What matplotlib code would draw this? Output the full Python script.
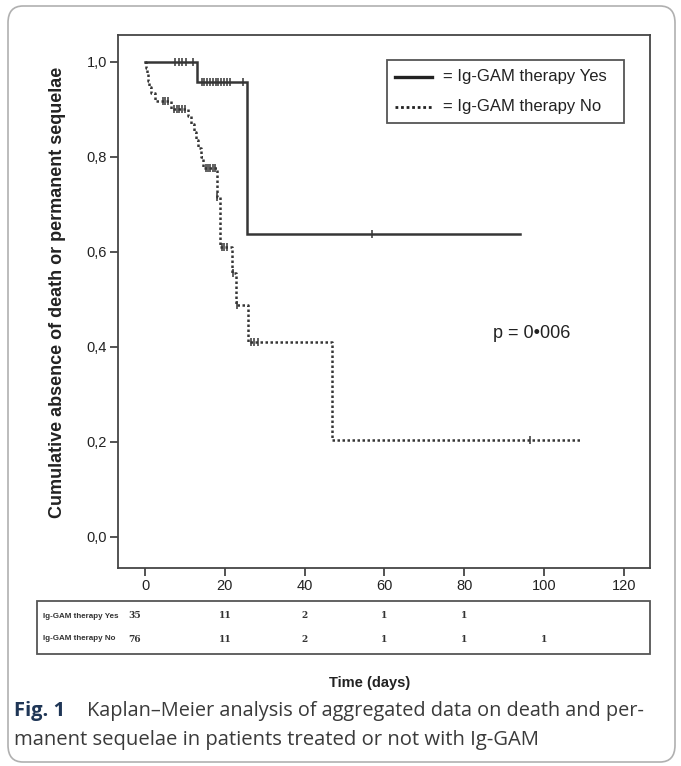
import numpy as np
import matplotlib
matplotlib.use("Agg")
import matplotlib.pyplot as plt
from matplotlib import transforms
from matplotlib.patches import Rectangle, FancyBboxPatch
from matplotlib.lines import Line2D

# ---------------- data ----------------
# Ig-GAM therapy Yes: step function (time in days, survival after the step)
yes_times = [0, 13.0, 25.5, 94.0]
yes_surv = [1.0, 0.957, 0.638, 0.638]
yes_censor = [7.6, 8.4, 9.2, 10.2, 12.0, 14.2, 14.9, 15.6, 16.3, 17.0, 17.7,
              18.4, 19.1, 19.8, 20.6, 21.4, 24.6, 57.0]

# Ig-GAM therapy No
no_times = [0, 0.2, 0.5, 0.8, 1.1, 1.5, 2.6, 6.4, 10.8, 11.5, 12.2, 12.8,
            13.4, 14.0, 14.6, 18.0, 18.7, 21.8, 22.9, 25.7, 47.0, 109.0]
no_surv = [1.0, 0.987, 0.974, 0.961, 0.947, 0.934, 0.918, 0.902, 0.886, 0.869,
           0.852, 0.835, 0.818, 0.80, 0.777, 0.716, 0.611, 0.555, 0.488, 0.41,
           0.205, 0.205]
no_censor = [4.4, 5.1, 5.8, 7.2, 7.9, 8.6, 9.3, 10.0, 15.2, 15.8, 16.4, 17.0,
             17.6, 18.1, 19.3, 19.9, 20.5, 22.1, 23.1, 26.6, 27.4, 28.4, 96.5]

x_ticks = [0, 20, 40, 60, 80, 100, 120]
y_ticks = [0.0, 0.2, 0.4, 0.6, 0.8, 1.0]
y_tick_labels = ["0,0", "0,2", "0,4", "0,6", "0,8", "1,0"]

risk_labels = ["Ig-GAM therapy Yes", "Ig-GAM therapy No"]
risk_yes = {0: "35", 20: "11", 40: "2", 60: "1", 80: "1"}
risk_no = {0: "76", 20: "11", 40: "2", 60: "1", 80: "1", 100: "1"}

legend_labels = ["= Ig-GAM therapy Yes", "= Ig-GAM therapy No"]
p_text = "p = 0\u2022006"
y_label = "Cumulative absence of death or permanent sequelae"
x_label = "Time (days)"
caption_bold = "Fig. 1"
caption_line1 = "Kaplan\u2013Meier analysis of aggregated data on death and per-"
caption_line2 = "manent sequelae in patients treated or not with Ig-GAM"

# ---------------- figure ----------------
W, H = 681, 766
fig = plt.figure(figsize=(W / 100, H / 100), dpi=100)
fig.patch.set_facecolor("white")
plt.rcParams["font.family"] = ["Liberation Sans", "DejaVu Sans"]


def fx(px):
    return px / W


def fy(py):
    return 1 - py / H


# outer rounded frame
outer = FancyBboxPatch((fx(8), fy(762)), fx(675) - fx(8), fy(6) - fy(762),
                       boxstyle="round,pad=0,rounding_size=0.022",
                       transform=fig.transFigure, fill=False,
                       edgecolor="#b0b0b0", linewidth=1.2)
fig.patches.append(outer)

ax = fig.add_axes([fx(118), fy(568), fx(650) - fx(118), fy(35) - fy(568)])
ax.set_xlim(-6.77, 126.6)
ax.set_ylim(-0.0653, 1.0568)
for s in ax.spines.values():
    s.set_color("#454545")
    s.set_linewidth(1.3)

line_col = "#363636"
dot_style = (0, (1.0, 1.0))


def step_at(times, surv, t):
    i = np.searchsorted(times, t, side="right") - 1
    return np.asarray(surv)[i]


ax.plot(yes_times, yes_surv, drawstyle="steps-post", color=line_col,
        linewidth=1.8, solid_joinstyle="miter")
ax.plot(no_times, no_surv, drawstyle="steps-post", color=line_col,
        linewidth=1.8, linestyle=dot_style)
ax.plot(yes_censor, [step_at(yes_times, yes_surv, c) for c in yes_censor],
        linestyle="none", marker="|", markersize=6, markeredgewidth=1.1,
        color=line_col)
ax.plot(no_censor, [step_at(no_times, no_surv, c) for c in no_censor],
        linestyle="none", marker="|", markersize=6, markeredgewidth=1.1,
        color=line_col)

ax.set_xticks(x_ticks)
ax.set_xticklabels([str(t) for t in x_ticks])
ax.set_yticks(y_ticks)
ax.set_yticklabels(y_tick_labels)
ax.tick_params(axis="both", direction="out", length=6, width=1.3,
               color="#454545", labelsize=10.5, labelcolor="#222222", pad=2)

# legend box
fig.patches.append(Rectangle((fx(387), fy(123)), fx(624) - fx(387),
                             fy(60) - fy(123), transform=fig.transFigure,
                             fill=False, edgecolor="#555555", linewidth=1.3))
for i, (lab, ls) in enumerate(zip(legend_labels, ["-", dot_style])):
    yy = fy(77 + 30 * i)
    fig.add_artist(Line2D([fx(395), fx(432)], [yy, yy], color="#222222",
                          linewidth=2.4 if i == 0 else 2.0, linestyle=ls,
                          transform=fig.transFigure))
    fig.text(fx(443), yy, lab, fontsize=12, va="center", ha="left",
             color="#222222")

fig.text(fx(493), fy(333), p_text, fontsize=13, va="center", ha="left",
         color="#222222")

fig.text(fx(58), fy(292), y_label, rotation=90, fontsize=13,
         fontweight="bold", va="center", ha="center", color="#222222")

# number-at-risk table
fig.patches.append(Rectangle((fx(37), fy(654)), fx(650) - fx(37),
                             fy(601) - fy(654), transform=fig.transFigure,
                             fill=False, edgecolor="#555555", linewidth=1.3))
blend = transforms.blended_transform_factory(ax.transData, fig.transFigure)
for lab, row, py in zip(risk_labels, [risk_yes, risk_no], [616, 639]):
    fig.text(fx(43), fy(py), lab, fontsize=5.8, va="center", ha="left",
             color="#333333", fontweight="bold")
    for t, v in row.items():
        ax.text(t - (2.5 if t == 0 else 0), fy(py), v, transform=blend,
                fontsize=6.5, va="center", ha="center", color="#333333",
                family="DejaVu Serif", fontweight="bold")

fig.text(fx(370), fy(683), x_label, fontsize=10.5, fontweight="bold",
         va="center", ha="center", color="#222222")

# caption
fig.text(fx(14), fy(711), caption_bold, fontsize=14.5,
         fontweight="bold", va="center", ha="left", color="#1f3656",
         family="Open Sans")
fig.text(fx(87), fy(711), caption_line1, fontsize=14.3, va="center",
         ha="left", color="#3a3a3a", family="Open Sans")
fig.text(fx(14), fy(740), caption_line2, fontsize=14.6, va="center",
         ha="left", color="#3a3a3a", family="Open Sans")

fig.savefig("out.png", dpi=100, facecolor="white")
